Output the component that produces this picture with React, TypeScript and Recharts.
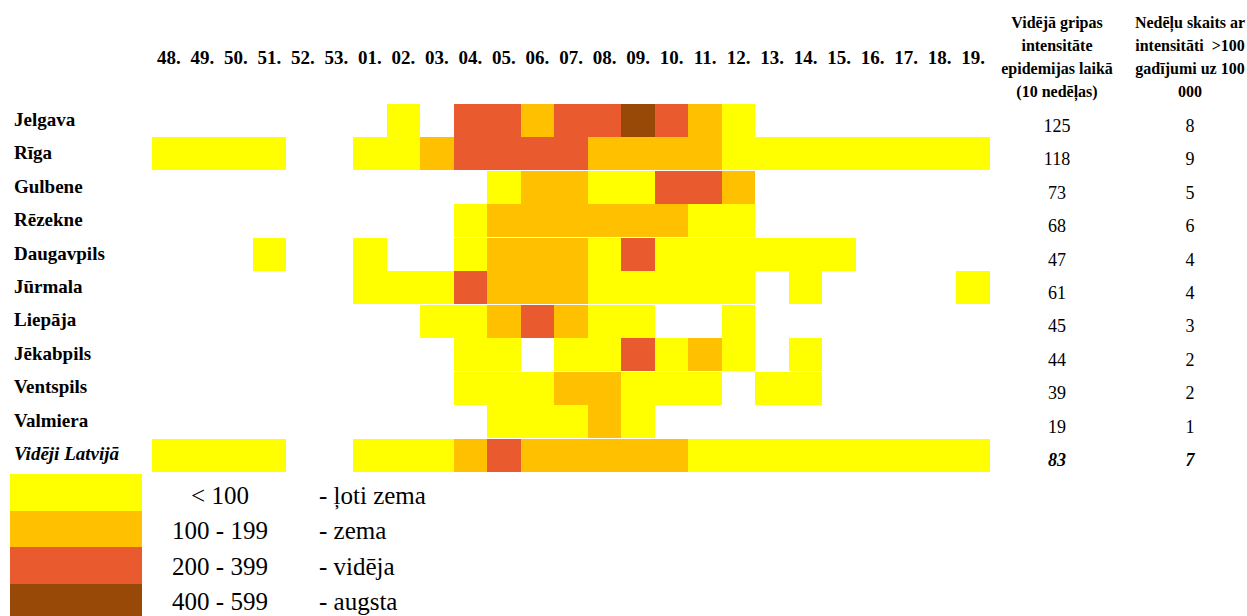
import { BarChart, Bar, XAxis, YAxis } from "recharts"

const weeks = ["48.", "49.", "50.", "51.", "52.", "53.", "01.", "02.", "03.", "04.", "05.", "06.", "07.", "08.", "09.", "10.", "11.", "12.", "13.", "14.", "15.", "16.", "17.", "18.", "19."]

const cities = ["Jelgava", "Rīga", "Gulbene", "Rēzekne", "Daugavpils", "Jūrmala", "Liepāja", "Jēkabpils", "Ventspils", "Valmiera", "Vidēji Latvijā"]

// intensity level per week: 0 = no data, 1 = <100, 2 = 100-199, 3 = 200-399, 4 = 400-599
const jelgava = [0, 0, 0, 0, 0, 0, 0, 1, 0, 3, 3, 2, 3, 3, 4, 3, 2, 1, 0, 0, 0, 0, 0, 0, 0]
const riga = [1, 1, 1, 1, 0, 0, 1, 1, 2, 3, 3, 3, 3, 2, 2, 2, 2, 1, 1, 1, 1, 1, 1, 1, 1]
const gulbene = [0, 0, 0, 0, 0, 0, 0, 0, 0, 0, 1, 2, 2, 1, 1, 3, 3, 2, 0, 0, 0, 0, 0, 0, 0]
const rezekne = [0, 0, 0, 0, 0, 0, 0, 0, 0, 1, 2, 2, 2, 2, 2, 2, 1, 1, 0, 0, 0, 0, 0, 0, 0]
const daugavpils = [0, 0, 0, 1, 0, 0, 1, 0, 0, 1, 2, 2, 2, 1, 3, 1, 1, 1, 1, 1, 1, 0, 0, 0, 0]
const jurmala = [0, 0, 0, 0, 0, 0, 1, 1, 1, 3, 2, 2, 2, 1, 1, 1, 1, 1, 0, 1, 0, 0, 0, 0, 1]
const liepaja = [0, 0, 0, 0, 0, 0, 0, 0, 1, 1, 2, 3, 2, 1, 1, 0, 0, 1, 0, 0, 0, 0, 0, 0, 0]
const jekabpils = [0, 0, 0, 0, 0, 0, 0, 0, 0, 1, 1, 0, 1, 1, 3, 1, 2, 1, 0, 1, 0, 0, 0, 0, 0]
const ventspils = [0, 0, 0, 0, 0, 0, 0, 0, 0, 1, 1, 1, 2, 2, 1, 1, 1, 0, 1, 1, 0, 0, 0, 0, 0]
const valmiera = [0, 0, 0, 0, 0, 0, 0, 0, 0, 0, 1, 1, 1, 2, 1, 0, 0, 0, 0, 0, 0, 0, 0, 0, 0]
const latvija = [1, 1, 1, 1, 0, 0, 1, 1, 1, 2, 3, 2, 2, 2, 2, 2, 1, 1, 1, 1, 1, 1, 1, 1, 1]

const levels = [jelgava, riga, gulbene, rezekne, daugavpils, jurmala, liepaja, jekabpils, ventspils, valmiera, latvija]

const avgIntensity = [125, 118, 73, 68, 47, 61, 45, 44, 39, 19, 83]
const weeksOver100 = [8, 9, 5, 6, 4, 4, 3, 2, 2, 1, 7]

const levelColors = ["#FFFFFF", "#FFFF00", "#FFC000", "#E95B2E", "#984807"]
const legendRanges = ["< 100", "100 - 199", "200 - 399", "400 - 599"]
const legendNames = ["- ļoti zema", "- zema", "- vidēja", "- augsta"]

const header1 = ["Vidējā gripas", "intensitāte", "epidemijas laikā", "(10 nedēļas)"]
const header2 = ["Nedēļu skaits ar", "intensitāti  >100", "gadījumi uz 100", "000"]

const FONT = '"Liberation Serif", "Times New Roman", serif'

const rows = cities.map((city) => {
  const row: Record<string, string | number> = { city }
  weeks.forEach((_, i) => {
    row[`w${i}`] = 1
  })
  return row
})

function WeekTick({ x, payload }: any) {
  return (
    <text x={x} y={64} textAnchor="middle" fontFamily={FONT} fontSize={19} fontWeight="bold" fill="#000">
      {weeks[Math.floor(payload.value)]}
    </text>
  )
}

function CityTick({ y, payload }: any) {
  const last = payload.value === cities[cities.length - 1]
  return (
    <text x={14} y={y + 5} textAnchor="start" fontFamily={FONT} fontSize={19} fontWeight="bold" fontStyle={last ? "italic" : "normal"} fill="#000">
      {payload.value}
    </text>
  )
}

function ValueTick({ y, payload }: any) {
  const idx = cities.indexOf(payload.value)
  const last = idx === cities.length - 1
  return (
    <g fontFamily={FONT} fontSize={18} fill="#000" fontWeight={last ? "bold" : "normal"} fontStyle={last ? "italic" : "normal"}>
      <text x={1057} y={y + 11} textAnchor="middle">{avgIntensity[idx]}</text>
      <text x={1190} y={y + 11} textAnchor="middle">{weeksOver100[idx]}</text>
    </g>
  )
}

function HeaderBlock({ lines, center }: { lines: string[]; center: number }) {
  return (
    <div style={{ position: "absolute", left: center - 110, top: 11, width: 220, textAlign: "center", fontFamily: FONT, fontSize: 16, fontWeight: "bold", lineHeight: "23px", whiteSpace: "pre" }}>
      {lines.map((l) => (
        <div key={l}>{l}</div>
      ))}
    </div>
  )
}

const cellShape = (week: number) => (props: any) => {
  const lv = levels[props.index][week]
  if (!lv) return <g />
  return <rect x={props.x} y={props.y} width={props.width} height={props.height} fill={levelColors[lv]} shapeRendering="crispEdges" />
}

export default function App() {
  return (
    <div style={{ position: "absolute", left: 0, top: 0, width: 1247, height: 616, background: "#fff", overflow: "hidden" }}>
      <BarChart width={1247} height={616} data={rows} layout="vertical" barCategoryGap={0} barGap={0} margin={{ top: 64, right: 7, bottom: 144, left: 12 }}>
        <XAxis type="number" orientation="top" domain={[0, 25]} ticks={weeks.map((_, i) => i + 0.5)} tick={<WeekTick />} axisLine={false} tickLine={false} height={40} interval={0} />
        <YAxis type="category" dataKey="city" width={140} tick={<CityTick />} axisLine={false} tickLine={false} interval={0} />
        <YAxis yAxisId="right" type="category" dataKey="city" orientation="right" width={250} tick={<ValueTick />} axisLine={false} tickLine={false} interval={0} />
        {weeks.map((_, i) => (
          <Bar key={i} dataKey={`w${i}`} stackId="grid" isAnimationActive={false} shape={cellShape(i)} />
        ))}
      </BarChart>
      <HeaderBlock lines={header1} center={1057} />
      <HeaderBlock lines={header2} center={1190} />
      {legendRanges.map((range, i) => (
        <div key={range}>
          <div style={{ position: "absolute", left: 10, top: 474 + i * 36.5, width: 132, height: 36.5, background: levelColors[i + 1] }} />
          <div style={{ position: "absolute", left: 150, width: 140, top: 477.5 + i * 35.5, height: 36.5, lineHeight: "36.5px", textAlign: "center", fontFamily: FONT, fontSize: 25 }}>{range}</div>
          <div style={{ position: "absolute", left: 319, top: 477.5 + i * 35.5, height: 36.5, lineHeight: "36.5px", fontFamily: FONT, fontSize: 25, whiteSpace: "nowrap" }}>{legendNames[i]}</div>
        </div>
      ))}
    </div>
  )
}
